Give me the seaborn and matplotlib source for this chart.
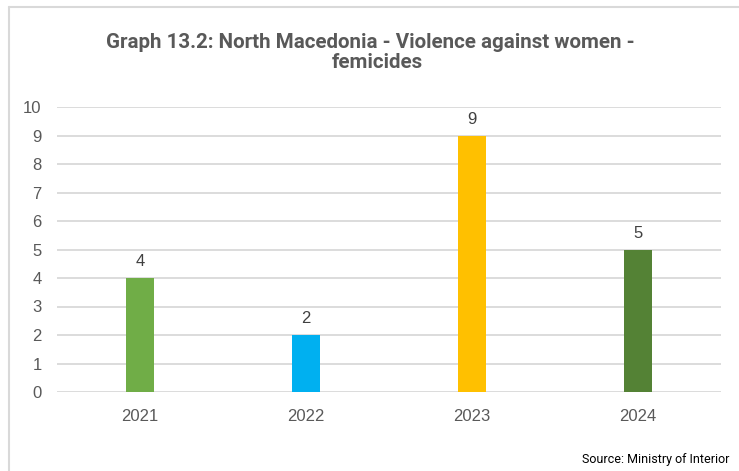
import matplotlib
matplotlib.use("Agg")
import matplotlib.pyplot as plt
import pandas as pd
import seaborn as sns
from matplotlib.lines import Line2D

years = ["2021", "2022", "2023", "2024"]
femicides = [4, 2, 9, 5]
bar_colors = ["#70AD47", "#00B0F0", "#FFC000", "#548235"]
title_lines = ["Graph 13.2: North Macedonia - Violence against women -", "femicides"]
source = "Source: Ministry of Interior"

sns.set_style("white")
plt.rcParams["font.family"] = ["Liberation Sans", "DejaVu Sans"]

df = pd.DataFrame({"year": years, "value": femicides})

fig = plt.figure(figsize=(7.39, 4.71), dpi=100)
ax = fig.add_axes([57 / 739, 1 - 392 / 471, 664 / 739, 285 / 471])

sns.barplot(data=df, x="year", y="value", hue="year", palette=bar_colors,
            width=0.17, legend=False, saturation=1, ax=ax, zorder=3,
            edgecolor="none")

ax.set_ylim(0, 10)
ax.set_xlim(-0.5, 3.5)
ax.set_yticks(range(0, 11))
ax.yaxis.grid(True, color="#D9D9D9", linewidth=1.3, zorder=0)
ax.set_axisbelow(True)
for s in ax.spines.values():
    s.set_visible(False)
ax.tick_params(axis="both", length=0, labelsize=12, colors="#595959")
ax.tick_params(axis="x", pad=12)
ax.tick_params(axis="y", pad=11)
ax.set_xlabel("")
ax.set_ylabel("")

for i, v in enumerate(femicides):
    ax.text(i, v + 0.3, str(v), ha="center", va="bottom",
            fontsize=12, color="#404040")

# title drawn as two lines, like the wrapped title of the original
for (x_px, y_px), line in zip([(370, 48), (377, 68)], title_lines):
    fig.text(x_px / 739, 1 - y_px / 471, line, ha="center", va="baseline",
             fontsize=14.8, fontweight="bold", color="#595959",
             family=["Roboto", "DejaVu Sans"])
fig.text(729 / 739, 1 - 460 / 471, source, ha="right", va="center",
         fontsize=9, color="#000000", family=["Roboto", "DejaVu Sans"])

# chart frame (left and top edges visible in the crop)
fig.add_artist(Line2D([8.5 / 739, 8.5 / 739], [0, 1 - 6.5 / 471],
                      transform=fig.transFigure, color="#D9D9D9", linewidth=1.5))
fig.add_artist(Line2D([8.5 / 739, 1], [1 - 6.5 / 471, 1 - 6.5 / 471],
                      transform=fig.transFigure, color="#D9D9D9", linewidth=1.5))

fig.savefig("out.png", dpi=100)
